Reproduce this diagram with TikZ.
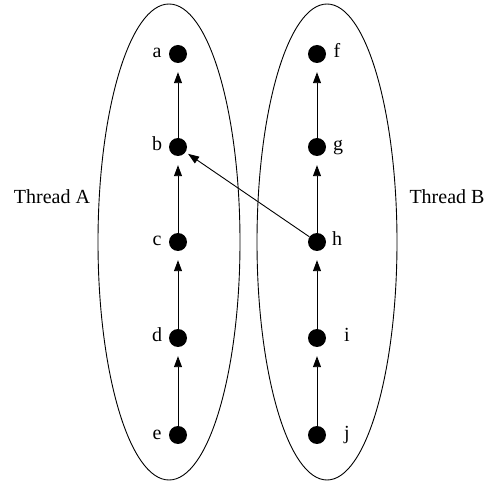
\documentclass[tikz,border=0pt]{standalone}
\usepackage{fontspec}
\setmainfont{Liberation Serif}
\usetikzlibrary{arrows.meta}
\begin{document}
\begin{tikzpicture}[x=1pt,y=-1pt,
  dot/.style={circle,fill=black,inner sep=0pt,minimum size=18pt},
  lbl/.style={font=\fontsize{20}{22}\selectfont,inner sep=0pt,anchor=base},
  conn/.style={line width=0.9pt,-{Triangle[length=11pt,width=8pt]}},
  thread/.style={draw,line width=0.9pt}]
\useasboundingbox (0,0) rectangle (488,481);
\draw[thread] (169,242) ellipse [x radius=71, y radius=238];
\draw[thread] (327,242) ellipse [x radius=70, y radius=238];
\node[dot] (a) at (178,54) {};
\node[dot] (b) at (178,147) {};
\node[dot] (c) at (178,242) {};
\node[dot] (d) at (178,338) {};
\node[dot] (e) at (178,435) {};
\node[dot] (f) at (317,54) {};
\node[dot] (g) at (317,147) {};
\node[dot] (h) at (317,242) {};
\node[dot] (i) at (317,338) {};
\node[dot] (j) at (317,435) {};
\node[lbl] (la) at (157,58) {a};
\node[lbl] (lb) at (157,151) {b};
\node[lbl] (lc) at (157,246) {c};
\node[lbl] (ld) at (157,342) {d};
\node[lbl] (le) at (157,439) {e};
\node[lbl] (lf) at (337,58) {f};
\node[lbl] (lg) at (338,151) {g};
\node[lbl] (lh) at (337,246) {h};
\node[lbl] (li) at (347,342) {i};
\node[lbl] (lj) at (347,439) {j};
\node[lbl] (ta) at (52,204) {Thread A};
\node[lbl] (tb) at (447,204) {Thread B};
\draw[conn,shorten >=9pt] (b) -- (a);
\draw[conn,shorten >=9pt] (c) -- (b);
\draw[conn,shorten >=9pt] (d) -- (c);
\draw[conn,shorten >=9pt] (e) -- (d);
\draw[conn,shorten >=9pt] (g) -- (f);
\draw[conn,shorten >=9pt] (h) -- (g);
\draw[conn,shorten >=9pt] (i) -- (h);
\draw[conn,shorten >=9pt] (j) -- (i);
\draw[conn,shorten >=3pt] (h) -- (b);
\end{tikzpicture}
\end{document}
